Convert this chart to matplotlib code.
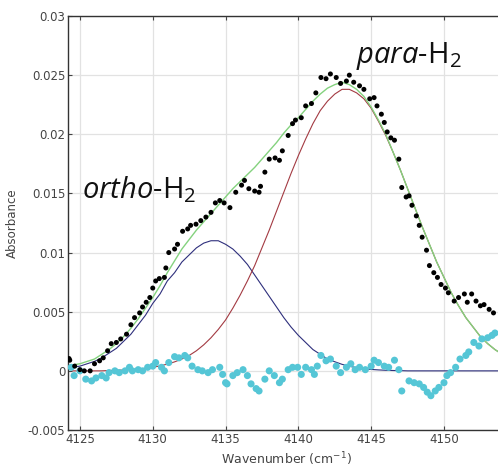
import numpy as np
import matplotlib
matplotlib.use("Agg")
import matplotlib.pyplot as plt

# measured points (black) and residual (cyan)
blk_x = [4124.25, 4124.3, 4124.64, 4125.0, 4125.3, 4125.7, 4126.0, 4126.35, 4126.6, 4126.9,
         4127.15, 4127.5, 4127.8, 4128.2, 4128.5, 4128.75, 4129.1, 4129.3, 4129.55, 4129.8,
         4130.0, 4130.2, 4130.45, 4130.8, 4130.9, 4131.1, 4131.5, 4131.7, 4132.05, 4132.4,
         4132.6, 4132.97, 4133.3, 4133.65, 4134.0, 4134.3, 4134.6, 4134.9, 4135.3, 4135.7,
         4136.1, 4136.3, 4136.6, 4137.0, 4137.3, 4137.4, 4137.7, 4138.0, 4138.4, 4138.7,
         4138.9, 4139.3, 4139.6, 4139.8, 4140.2, 4140.5, 4140.9, 4141.2, 4141.55, 4141.9,
         4142.2, 4142.6, 4142.9, 4143.3, 4143.5, 4143.8, 4144.2, 4144.5, 4144.9, 4145.2,
         4145.4, 4145.7, 4145.9, 4146.1, 4146.35, 4146.6, 4146.9, 4147.1, 4147.4, 4147.6,
         4147.8, 4148.1, 4148.3, 4148.5, 4148.8, 4149.0, 4149.3, 4149.55, 4149.8, 4150.1,
         4150.3, 4150.7, 4151.0, 4151.4, 4151.6, 4151.9, 4152.2, 4152.5, 4152.75, 4153.1,
         4153.4]
blk_y = [0.00104, 0.0009, 0.0004, 0.0001, 0.0, 0.0, 0.0006, 0.00085, 0.0011, 0.0017,
         0.0023, 0.0024, 0.0027, 0.0031, 0.0039, 0.0045, 0.0049, 0.0054, 0.0058, 0.0062,
         0.0070, 0.0076, 0.0078, 0.0079, 0.0087, 0.0100, 0.0103, 0.0107, 0.0118, 0.0120,
         0.0123, 0.0124, 0.0127, 0.0130, 0.0134, 0.0142, 0.0144, 0.0142, 0.0138, 0.0151,
         0.0157, 0.0161, 0.0154, 0.0152, 0.0151, 0.0156, 0.0168, 0.0179, 0.0180, 0.0178,
         0.0186, 0.0199, 0.0209, 0.0212, 0.0214, 0.0224, 0.0226, 0.0235, 0.0248, 0.0247,
         0.0251, 0.0248, 0.0243, 0.0245, 0.0250, 0.0244, 0.0241, 0.0238, 0.0230, 0.0231,
         0.0224, 0.0217, 0.0210, 0.0202, 0.0197, 0.0195, 0.0179, 0.0155, 0.0147, 0.0148,
         0.0140, 0.0131, 0.0123, 0.0113, 0.0102, 0.0089, 0.0083, 0.0079, 0.0073, 0.0070,
         0.0066, 0.0059, 0.0062, 0.0065, 0.0058, 0.0065, 0.0059, 0.0055, 0.0056, 0.0052,
         0.0049]

res_x = [4124.4, 4124.6, 4125.0, 4125.4, 4125.8, 4126.1, 4126.5, 4126.8, 4127.0, 4127.4,
         4127.7, 4128.1, 4128.4, 4128.6, 4129.0, 4129.3, 4129.65, 4130.0, 4130.2, 4130.6,
         4130.8, 4131.1, 4131.5, 4131.8, 4132.2, 4132.4, 4132.7, 4133.1, 4133.4, 4133.8,
         4134.1, 4134.6, 4134.8, 4135.0, 4135.1, 4135.5, 4135.8, 4136.2, 4136.5, 4136.75,
         4137.1, 4137.3, 4137.7, 4138.0, 4138.35, 4138.7, 4138.9, 4139.3, 4139.6, 4139.95,
         4140.2, 4140.5, 4140.9, 4141.1, 4141.3, 4141.55, 4141.9, 4142.2, 4142.6, 4142.9,
         4143.3, 4143.6, 4143.9, 4144.2, 4144.6, 4145.0, 4145.2, 4145.5, 4145.9, 4146.2,
         4146.6, 4146.9, 4147.1, 4147.6, 4147.95, 4148.3, 4148.6, 4148.85, 4149.1, 4149.4,
         4149.65, 4150.0, 4150.2, 4150.45, 4150.8, 4151.1, 4151.5, 4151.7, 4152.05, 4152.4,
         4152.6, 4153.0, 4153.3, 4153.5]
res_y = [0.0003, -0.0004, 0.0, -0.0007, -0.00085, -0.0006, -0.0004, -0.0006, -0.00015, 0.0,
         -0.00015, 0.0, 0.0003, 0.0, 0.0001, 0.0, 0.0003, 0.0004, 0.0007, 0.0003,
         0.0, 0.0007, 0.0012, 0.0011, 0.0013, 0.0011, 0.0004, 0.0001, 0.0, -0.00015,
         0.0001, 0.0003, -0.0003, -0.001, -0.0011, -0.0004, -0.00015, 0.0001, -0.0004, -0.0011,
         -0.0015, -0.0017, -0.0007, 0.0, -0.0004, -0.001, -0.0007, 0.0001, 0.0003, 0.0003,
         -0.0003, 0.0003, 0.0001, -0.0003, 0.0004, 0.0013, 0.00085, 0.001, 0.0004, -0.00015,
         0.0003, 0.0006, 0.0001, 0.0003, 0.0001, 0.0004, 0.0009, 0.0007, 0.0004, 0.0003,
         0.0009, 0.0001, -0.0017, -0.00085, -0.001, -0.0011, -0.0014, -0.0018, -0.0021, -0.0017,
         -0.0014, -0.001, -0.0004, -0.00015, 0.0003, 0.001, 0.0013, 0.0016, 0.0024, 0.0021,
         0.0027, 0.0028, 0.003, 0.0032]

# fitted components, read every 0.5 cm-1 from 4124.5 to 4154
fit_x = [4124.5 + 0.5 * i for i in range(60)]
ortho = [0.0003, 0.0004, 0.0006, 0.0008, 0.0011, 0.0015, 0.0019, 0.0025, 0.0031, 0.0039,
         0.0047, 0.0057, 0.0065, 0.0076, 0.0083, 0.0092, 0.0098, 0.0104, 0.0108, 0.0110,
         0.0110, 0.0107, 0.0103, 0.0097, 0.0090, 0.0081, 0.0072, 0.0063, 0.0054, 0.0045,
         0.0037, 0.0030, 0.0024, 0.0018, 0.0014, 0.0010, 0.00077, 0.00055, 0.00039, 0.00027,
         0.00018, 0.00012, 0.00008, 0.00005, 0.00003, 0.00002, 0.0, 0.0, 0.0, 0.0,
         0.0, 0.0, 0.0, 0.0, 0.0, 0.0, 0.0, 0.0, 0.0, 0.0]
para = [0.0, 0.0, 0.0, 0.0, 0.0, 0.00003, 0.00005, 0.00007, 0.00011, 0.00015,
        0.00022, 0.0003, 0.00042, 0.00057, 0.00076, 0.0010, 0.0013, 0.0017, 0.0022, 0.0028,
        0.0035, 0.0043, 0.0053, 0.0064, 0.0076, 0.0089, 0.0104, 0.0119, 0.0135, 0.0151,
        0.0167, 0.0182, 0.0196, 0.0209, 0.0220, 0.0228, 0.0234, 0.0238, 0.0238, 0.0235,
        0.0230, 0.0222, 0.0211, 0.0199, 0.0185, 0.0170, 0.0154, 0.0138, 0.0122, 0.0107,
        0.0092, 0.0079, 0.0066, 0.0055, 0.0045, 0.0037, 0.0029, 0.0023, 0.0018, 0.0014]
total = [0.0005, 0.0006, 0.0008, 0.0010, 0.0014, 0.0018, 0.0023, 0.0029, 0.0036, 0.0044,
         0.0053, 0.0062, 0.0072, 0.0083, 0.0093, 0.0103, 0.0111, 0.0119, 0.0126, 0.0133,
         0.0140, 0.0147, 0.0154, 0.0160, 0.0166, 0.0172, 0.0179, 0.0186, 0.0193, 0.0201,
         0.0208, 0.0214, 0.0221, 0.0228, 0.0234, 0.0239, 0.0242, 0.0244, 0.0242, 0.0238,
         0.0232, 0.0223, 0.0212, 0.0200, 0.0185, 0.0170, 0.0154, 0.0138, 0.0122, 0.0107,
         0.0092, 0.0079, 0.0066, 0.0055, 0.0045, 0.0037, 0.0029, 0.0023, 0.0018, 0.0014]

xticks = [4125, 4130, 4135, 4140, 4145, 4150]
yticks = [-0.005, 0, 0.005, 0.01, 0.015, 0.02, 0.025, 0.03]
ytick_labels = ["-0.005", "0", "0.005", "0.01", "0.015", "0.02", "0.025", "0.03"]

W, H = 498, 466
fig = plt.figure(figsize=(W / 100, H / 100), dpi=100)
# axes runs a bit past the right border, like the cropped original
ax = fig.add_axes([68 / W, 36 / H, (505 - 68) / W, (430 - 16) / H])

ax.plot(fit_x, ortho, color="#2e2f7c", lw=0.8, zorder=2)
ax.plot(fit_x, para, color="#a33a42", lw=0.8, zorder=2)
ax.plot(fit_x, total, color="#84d27e", lw=1.0, zorder=2)
ax.scatter(res_x, res_y, s=26, color="#55c6d6", edgecolors="none", zorder=3)
ax.scatter(blk_x, blk_y, s=13, color="black", edgecolors="none", zorder=4)

ax.set_xlim(4124.18, 4154.19)
ax.set_ylim(-0.005, 0.03)
ax.set_xticks(xticks)
ax.set_yticks(yticks)
ax.set_yticklabels(ytick_labels)
ax.grid(True, color="#e2e2e2", lw=0.9)
ax.set_axisbelow(True)
ax.tick_params(direction="in", length=3, width=0.8, colors="#444444", labelsize=8.5,
               top=True, pad=2)
for s in ax.spines.values():
    s.set_color("#333333")
    s.set_linewidth(1.0)

ax.set_ylabel("Absorbance", fontsize=8.5, color="#444444", labelpad=6)
ax.set_xlabel("Wavenumber (cm$^{-1}$)", fontsize=9, color="#444444", labelpad=3,
              math_fontfamily="dejavusans")

plt.rcParams["mathtext.fontset"] = "custom"
plt.rcParams["mathtext.rm"] = "Open Sans"
plt.rcParams["mathtext.it"] = "Open Sans:italic"
ax.text(82 / W, 1 - 198 / H, r"$\mathit{ortho}$-H$_2$", transform=fig.transFigure,
        fontsize=21, family="Open Sans", math_fontfamily="custom", color="#111111")
ax.text(356 / W, 1 - 63 / H, r"$\mathit{para}$-H$_2$", transform=fig.transFigure,
        fontsize=21, family="Open Sans", math_fontfamily="custom", color="#111111")

fig.savefig("out.png", dpi=100)
